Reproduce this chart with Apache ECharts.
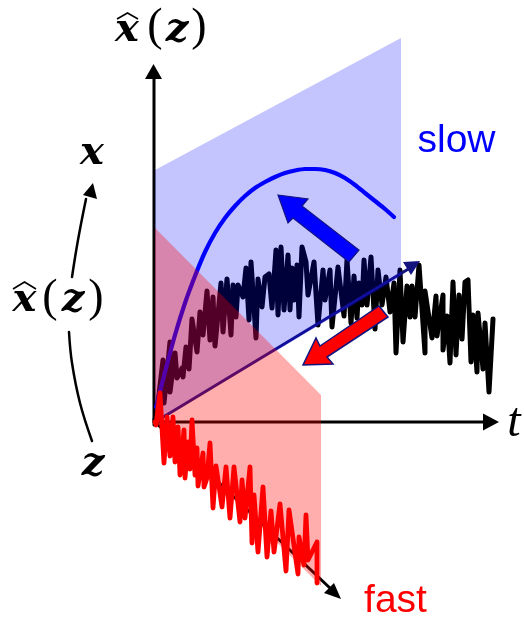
<!DOCTYPE html>
<html><head><meta charset="utf-8">
<style>html,body{margin:0;padding:0;background:#fff}#c{width:524px;height:619px}</style>
<script src="https://cdn.jsdelivr.net/npm/echarts@6/dist/echarts.min.js"></script>
</head><body><div id="c"></div>
<script>
// Noise traces (horizontal, vertical in the drawing's own units)
const slowNoiseT=[155,158,163,164,170,170,175,177,182,183,186,189,192,197,200,203,207,210,213,215,221,223,227,231,233,236,238,243,246,249,251,256,258,262,265,269,272,276,278,281,284,288,290,292,294,297,299,302,306,308,314,318,323,325,330,332,338,344,347,351,354,357,359,362,364,367,371,375,378,382,386,390,394,396,400,403,407,410,412,415,419,425,425,432,436,437,443,443,447,450,453,456,459,462,465,468,471,473,477,478,483,485,489,493];
const slowNoiseV=[420,403,360,403,342,392,353,378,368,377,347,369,319,352,312,335,291,340,297,346,283,332,279,335,285,317,285,297,268,320,262,338,279,307,277,274,308,250,315,247,310,255,310,268,300,265,317,247,262,295,262,325,270,300,270,327,267,316,260,323,276,318,283,305,260,305,257,329,270,305,277,312,283,353,270,342,286,317,286,317,265,353,291,338,296,336,295,350,316,363,282,355,295,339,282,280,362,315,372,313,369,323,392,319];
const fastNoiseT=[155,156,160,164,167,170,173,175,178,180,184,185,188,190,192,195,197,198,203,204,207,210,213,216,222,226,230,234,240,242,245,250,252,254,258,263,267,271,274,280,286,289,298,299,304,306,308,317,317];
const fastNoiseV=[422,425,393,463,417,456,417,462,427,475,430,478,442,469,420,475,448,486,453,487,478,443,508,466,507,467,518,467,522,480,518,467,543,495,552,487,557,511,552,504,571,510,574,537,565,515,560,542,583];
const curveT=[156,165,175,185,195,205,215,225,235,245,255,265,275,285,295,305,315,325,335,345,355,365,375,385,394];
const curveV=[407,372,335,303,276,252,233,218,206,196,188,182,177,173,170.5,169,169,170,173,178,185,193,201,209,217];
// Planes
const slowPlaneT=[155,401,401,155], slowPlaneV=[170,38,277,422];
const fastPlaneT=[155,321,321,155], fastPlaneV=[228,395,586,422];
// Axes and heads
const axisVT=[154,154], axisVV=[425,70];
const axisVHeadT=[153.5,145,162], axisVHeadV=[64,79,79];
const axisTT=[154,488], axisTV=[422,422];
const axisTHeadT=[499,483,483], axisTHeadV=[422,413.5,430.5];
const axisZT=[155,332], axisZV=[422,590];
const axisZHeadT=[341,324,334], axisZHeadV=[599,593,583];
const diagT=[155,410], diagV=[422,268];
const diagHeadT=[420,403,411], diagHeadV=[261,262,275];
// Block arrows
const slowArrowT=[278,308,302,359,349,293,288], slowArrowV=[195,199,206,250,262,218,223];
const fastArrowT=[379,388,327,333,303,316,320], fastArrowV=[306,317,357,364,365,338,346];
// Left-hand curved arrow
const leftLowT=[92,80,72,69], leftLowV=[441,403,363,332];
const leftUpT=[72,78,86], leftUpV=[277,240,199];
const leftHeadT=[93,83,97], leftHeadV=[183,195,199];
// Text
const slowLabel='slow', fastLabel='fast', tLabel='t';

const pts=(a,b)=>a.map((v,i)=>[v,b[i]]);
const line=(a,b,color,width,z,smooth)=>({type:'line',data:pts(a,b),showSymbol:false,symbol:'none',smooth:smooth||false,z:z,silent:true,clip:false,animation:false,
  lineStyle:{color:color,width:width,cap:'round',join:'round',opacity:1}});
const poly=(a,b,fill,z,stroke,sw)=>({type:'custom',coordinateSystem:'cartesian2d',data:pts(a,b),z:z,silent:true,clip:false,animation:false,
  renderItem:(p,api)=>p.dataIndex!==0?null:({type:'polygon',shape:{points:pts(a,b).map(q=>api.coord(q))},
    style:{fill:fill,stroke:stroke||null,lineWidth:sw||0,lineJoin:'miter'}})});
const navy='#14147f';
const chart=echarts.init(document.getElementById('c'),null,{renderer:'canvas'});
const mathFont='italic bold 40px "DejaVu Serif"', parenFont='46px "Liberation Serif"';
const txt=(text,x,y,font,fill)=>({type:'text',x:x,y:y,z:50,silent:true,style:{text:text,fill:fill||'#000',font:font,verticalAlign:'middle',align:'center'}});
const hat=(x0,x1,yTop,yEnd)=>({type:'polyline',z:50,silent:true,shape:{points:[[x0,yEnd],[(x0+x1)/2,yTop],[x1,yEnd]]},style:{stroke:'#000',lineWidth:1.6,fill:null}});
chart.setOption({
  animation:false,backgroundColor:'#fff',
  grid:{left:0,right:0,top:0,bottom:0,containLabel:false},
  xAxis:{type:'value',min:0,max:524,show:false},
  yAxis:{type:'value',min:0,max:619,inverse:true,show:false},
  series:[
    line(axisVT,axisVV,'#000',3,1),poly(axisVHeadT,axisVHeadV,'#000',1),
    line(axisTT,axisTV,'#000',3,1),poly(axisTHeadT,axisTHeadV,'#000',1),
    line(axisZT,axisZV,'#000',3,1),poly(axisZHeadT,axisZHeadV,'#000',1),
    line(slowNoiseT,slowNoiseV,'#000',5,2),
    line(curveT,curveV,'#0000ff',4.2,3,0.25),
    line(diagT,diagV,navy,3,3),poly(diagHeadT,diagHeadV,navy,3),
    poly(slowPlaneT,slowPlaneV,'rgba(0,0,255,0.23)',4),
    poly(fastPlaneT,fastPlaneV,'rgba(255,0,0,0.32)',5),
    line(fastNoiseT,fastNoiseV,'#ff0000',4.8,6),
    poly(slowArrowT,slowArrowV,'#0000ff',7,navy,1.2),
    poly(fastArrowT,fastArrowV,'#ff0000',7,navy,1.5),
    line(leftLowT,leftLowV,'#000',2.5,8,0.4),line(leftUpT,leftUpV,'#000',2.5,8,0.4),poly(leftHeadT,leftHeadV,'#000',8)
  ],
  graphic:[
    txt(slowLabel,456.5,141,'39px "Liberation Sans"','#0000ff'),
    txt(fastLabel,395.5,601,'39px "Liberation Sans"','#ff0000'),
    txt(tLabel,514,423,'italic 48px "Liberation Serif"'),
    txt('x',127,31,mathFont),txt('(',155,28,parenFont),txt('z',177,31,mathFont),txt(')',199,28,parenFont),hat(117,138,13,19),
    txt('x',24.5,301,mathFont),txt('(',50,299,parenFont),txt('z',73,301,mathFont),txt(')',96,299,parenFont),hat(13,36,282,289),
    txt('x',92,154,mathFont),
    txt('z',93,465,mathFont)
  ]
});
</script></body></html>
